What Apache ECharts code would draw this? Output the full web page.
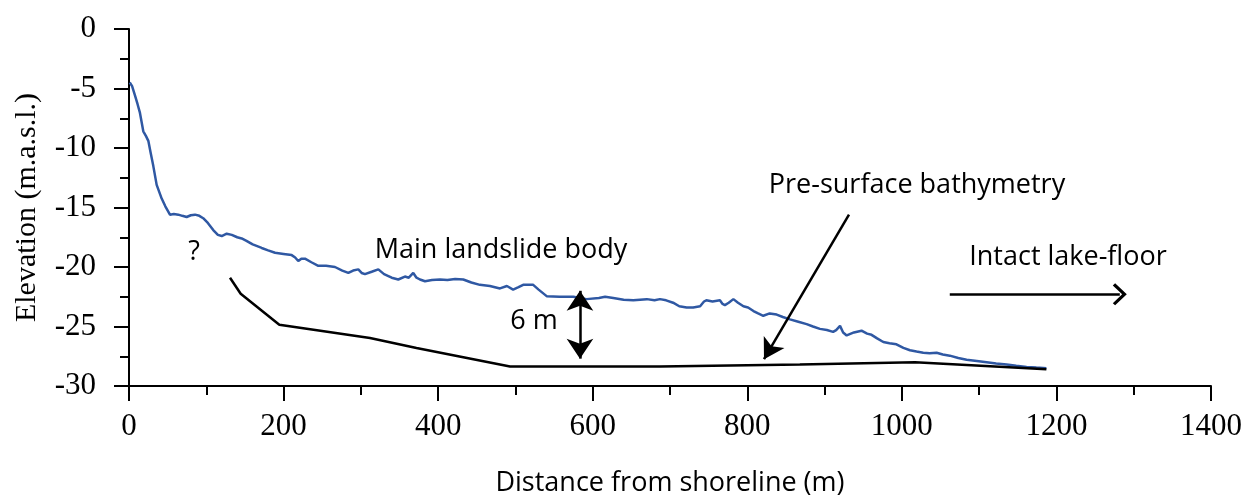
<!DOCTYPE html>
<html>
<head>
<meta charset="utf-8">
<script src="https://cdn.jsdelivr.net/npm/echarts@6/dist/echarts.min.js"></script>
<style>
html,body{margin:0;padding:0;background:#fff;}
#chart{width:1255px;height:502px;}
</style>
</head>
<body>
<div id="chart"></div>
<script>
// Post-event surface profile (blue)
const profileDistance = [1,4,7.8,11,14,18.5,22,25,28,31.4,35.8,42.3,47,53,58,63.8,69,74.6,80,85.4,91,96,102,109,115,120,126.4,133,140,145.8,152,160,171.7,180,189,200,210.5,215,219,223,227.7,236,244.9,255,266.5,276,283.8,290,296.7,301,305.3,314,322.6,330,339.9,348.4,357,362,367.8,372,376.5,383,392,402.4,412,422,432.5,443,454,467,480,489,497,504,510,517,523,530,540.4,557,575,583,592,608,616,626.6,640,652.5,670,680,687,695,704,712,721.5,730,739,744,747,755,764.6,768,771,776,782,788,795,801,808,814,820.7,829,838,846,855.2,866,876.8,885,894,903,911,915,920,924,928.6,938,947.8,955,960.8,968,976,984,993,1002,1010.5,1019,1027.7,1036,1045,1053,1062,1073,1083.8,1097,1109.7,1122,1135.6,1148,1161.4,1174,1187];
const profileElevation = [-4.5,-4.8,-5.6,-6.3,-7.0,-8.6,-9.0,-9.4,-10.4,-11.5,-13.1,-14.25,-14.9,-15.6,-15.55,-15.6,-15.7,-15.8,-15.65,-15.6,-15.7,-15.9,-16.3,-16.9,-17.3,-17.4,-17.2,-17.3,-17.5,-17.6,-17.8,-18.1,-18.4,-18.6,-18.8,-18.9,-19.0,-19.2,-19.5,-19.3,-19.3,-19.6,-19.9,-19.9,-20.0,-20.3,-20.5,-20.3,-20.2,-20.5,-20.6,-20.4,-20.2,-20.6,-20.9,-21.05,-20.8,-20.9,-20.5,-20.9,-21.05,-21.2,-21.1,-21.05,-21.1,-21.0,-21.05,-21.3,-21.5,-21.6,-21.8,-21.6,-21.9,-21.7,-21.5,-21.5,-21.5,-21.9,-22.45,-22.5,-22.5,-22.6,-22.7,-22.6,-22.5,-22.6,-22.75,-22.8,-22.7,-22.8,-22.7,-22.8,-23.0,-23.3,-23.4,-23.4,-23.3,-22.9,-22.8,-22.9,-22.8,-23.1,-23.2,-23.0,-22.7,-23.0,-23.3,-23.4,-23.7,-23.9,-24.1,-23.9,-24.0,-24.2,-24.4,-24.6,-24.8,-25.0,-25.2,-25.3,-25.45,-25.3,-24.95,-25.5,-25.75,-25.5,-25.35,-25.6,-25.7,-26.0,-26.3,-26.4,-26.5,-26.8,-27.0,-27.1,-27.2,-27.25,-27.2,-27.35,-27.45,-27.65,-27.8,-27.9,-28.0,-28.1,-28.2,-28.3,-28.4,-28.45,-28.5];

// Pre-surface bathymetry (black)
const preDistance = [130.7,144.5,194.5,311.8,372,493,687,868,1017,1187];
const preElevation = [-20.9,-22.25,-24.86,-25.97,-26.8,-28.36,-28.36,-28.2,-28.0,-28.6];

// Axis ticks
const xTicks = {min:0, max:1400, step:200};
const yTicks = {min:-30, max:0, step:5};

// Annotation arrows (data coordinates)
const arrowSixM = [[583.5,-22.0],[583.5,-27.7]];
const arrowPre = [[931.6,-15.6],[821.6,-27.75]];
const arrowIntact = [[1062,-22.3],[1282,-22.3]];

const zip = (a,b)=>a.map((v,i)=>[v,b[i]]);

const chart = echarts.init(document.getElementById('chart'), null, {renderer:'canvas'});
const serif = 'Liberation Serif';
const sans = 'Open Sans';
const chevron = 'path://M0,0 L10,10 L8,12 L0,4 L-8,12 L-10,10 Z';

chart.setOption({
  animation:false,
  backgroundColor:'#fff',
  grid:{left:129,right:44,top:29,bottom:113,containLabel:false},
  xAxis:{
    type:'value', min:xTicks.min, max:xTicks.max, interval:xTicks.step,
    splitLine:{show:false},
    axisLine:{show:true,onZero:false,lineStyle:{color:'#000',width:2}},
    axisTick:{show:true,length:15,lineStyle:{color:'#000',width:2}},
    minorTick:{show:true,splitNumber:2,length:9,lineStyle:{color:'#000',width:2}},
    axisLabel:{color:'#000',fontFamily:serif,fontSize:31,margin:25,formatter:v=>String(v)},
    name:'Distance from shoreline (m)',
    nameLocation:'middle', nameGap:84,
    nameTextStyle:{color:'#000',fontFamily:sans,fontSize:27}
  },
  yAxis:{
    type:'value', min:yTicks.min, max:yTicks.max, interval:yTicks.step,
    splitLine:{show:false},
    axisLine:{show:true,onZero:false,lineStyle:{color:'#000',width:2}},
    axisTick:{show:true,length:15,lineStyle:{color:'#000',width:2}},
    minorTick:{show:true,splitNumber:2,length:9,lineStyle:{color:'#000',width:2}},
    axisLabel:{color:'#000',fontFamily:serif,fontSize:31,margin:33,formatter:v=>String(v)},
    name:'Elevation (m.a.s.l.)',
    nameLocation:'middle', nameGap:87,
    nameTextStyle:{color:'#000',fontFamily:serif,fontSize:30}
  },
  series:[
    {
      type:'line', name:'Profile', data:zip(profileDistance,profileElevation),
      showSymbol:false, symbol:'none', smooth:false,
      lineStyle:{color:'#2f58a3',width:2.5}, silent:true
    },
    {
      type:'line', name:'Pre-surface bathymetry', data:zip(preDistance,preElevation),
      showSymbol:false, symbol:'none',
      lineStyle:{color:'#000',width:2.5}, silent:true,
      markLine:{
        silent:true, animation:false,
        label:{show:false},
        lineStyle:{color:'#000',width:2.5,type:'solid'},
        emphasis:{disabled:true},
        data:[
          [{coord:arrowSixM[0],symbol:'arrow',symbolSize:[20,20]},{coord:arrowSixM[1],symbol:'arrow',symbolSize:[20,20]}],
          [{coord:arrowPre[0],symbol:'none'},{coord:arrowPre[1],symbol:'arrow',symbolSize:[18,20]}],
          [{coord:arrowIntact[0],symbol:'none'},{coord:arrowIntact[1],symbol:chevron,symbolSize:[22,14]}]
        ]
      }
    }
  ],
  graphic:[
    {type:'text',x:501,y:250,style:{text:'Main landslide body',fill:'#000',fontFamily:sans,fontSize:27,align:'center',verticalAlign:'middle'}},
    {type:'text',x:917,y:185,style:{text:'Pre-surface bathymetry',fill:'#000',fontFamily:sans,fontSize:27,align:'center',verticalAlign:'middle'}},
    {type:'text',x:1068,y:257,style:{text:'Intact lake-floor',fill:'#000',fontFamily:sans,fontSize:27,align:'center',verticalAlign:'middle'}},
    {type:'text',x:534,y:321,style:{text:'6 m',fill:'#000',fontFamily:sans,fontSize:27,align:'center',verticalAlign:'middle'}},
    {type:'text',x:194,y:252,style:{text:'?',fill:'#000',fontFamily:sans,fontSize:27,align:'center',verticalAlign:'middle'}}
  ]
});
</script>
</body>
</html>
